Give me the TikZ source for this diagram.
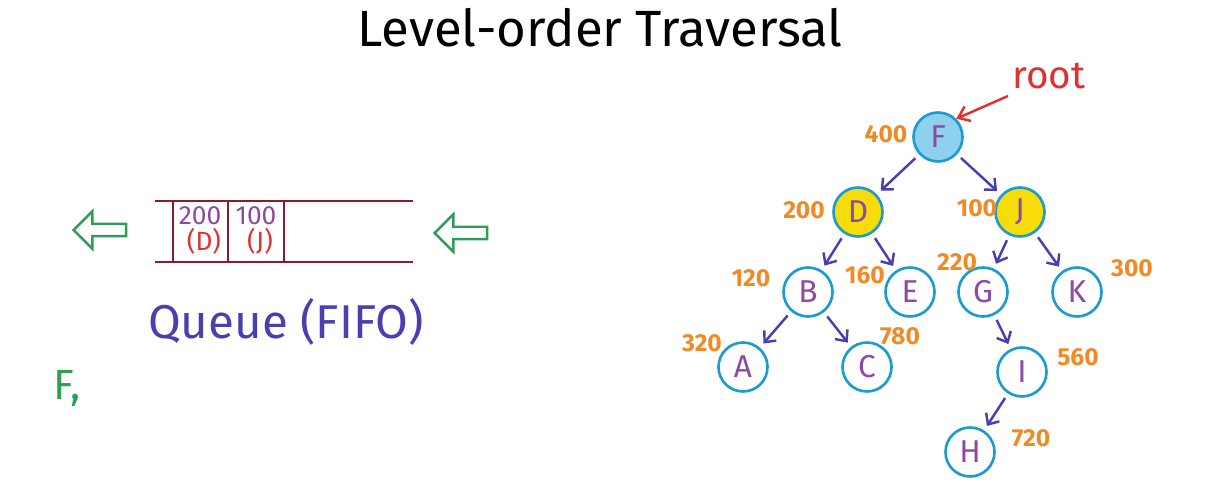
\documentclass[tikz,border=0pt]{standalone}
\usepackage{fontspec}
\setmainfont{Fira Sans}
\usetikzlibrary{shapes.arrows,arrows.meta}
\definecolor{edgeblue}{HTML}{4A3FB0}
\definecolor{ringblue}{HTML}{1B9BD1}
\definecolor{rootfill}{HTML}{8FD0EE}
\definecolor{visityel}{HTML}{F7DC0A}
\definecolor{letterpur}{HTML}{8E4AA0}
\definecolor{keyorange}{HTML}{F08A24}
\definecolor{rootred}{HTML}{E03030}
\definecolor{queuered}{HTML}{8B1C2C}
\definecolor{hintgreen}{HTML}{2E9E56}
\definecolor{qblue}{HTML}{4A3FB0}
\begin{document}
\begin{tikzpicture}[
        x=0.02cm, y=-0.02cm,
        treenode/.style={
            circle,
            draw=ringblue,
            line width=1.5pt,
            fill=white,
            minimum size=0.98cm,
            inner sep=0pt,
            text=letterpur,
            font=\fontsize{18}{18}\selectfont
        },
        visitnode/.style={treenode, fill=visityel},
        rootnode/.style={treenode, fill=rootfill},
        keylbl/.style={text=keyorange, font=\fontsize{14}{14}\selectfont\bfseries},
        edge/.style={-{Straight Barb[length=5pt,width=9pt]}, line width=1.4pt, draw=edgeblue, shorten <=3pt, shorten >=3pt},
        hollowarrow/.style={
            single arrow,
            draw=hintgreen,
            line width=1.4pt,
            shape border rotate=180,
            minimum width=0.75cm,
            minimum height=1.05cm,
            single arrow head extend=0.12cm,
            inner sep=1pt
        },
        qline/.style={draw=queuered, line width=1.4pt}
    ]
    \useasboundingbox (0,0) rectangle (1219,482);
    % Titel
    \node[font=\fontsize{29}{32}\selectfont] (title) at (600,28) {Level-order Traversal};

    % Warteschlange
    \coordinate (qtl) at (155,201);
    \coordinate (qtr) at (413,201);
    \coordinate (qbl) at (155,262);
    \coordinate (qbr) at (413,262);
    \draw[qline] (qtl) -- (qtr);
    \draw[qline] (qbl) -- (qbr);
    \foreach \qx in {173,228,284} {
        \draw[qline] (\qx,201) -- (\qx,262);
    }
    \node[text=letterpur, font=\fontsize{15}{15}\selectfont] (q1key) at (200,216) {200};
    \node[text=rootred, font=\fontsize{15}{15}\selectfont] (q1id) at (204,241) {(D)};
    \node[text=letterpur, font=\fontsize{15}{15}\selectfont] (q2key) at (256,216) {100};
    \node[text=rootred, font=\fontsize{15}{15}\selectfont] (q2id) at (260,241) {(J)};
    \node[hollowarrow] (deq) at (103,230) {};
    \node[hollowarrow] (enq) at (464,233) {};
    \node[text=qblue, font=\fontsize{27}{30}\selectfont] (qcap) at (286,322) {Queue (FIFO)};
    \node[text=hintgreen, font=\fontsize{24}{26}\selectfont] (visited) at (67,388) {F,};

    % Baum
    \node[rootnode] (F) at (938,137) {F};
    \node[visitnode] (D) at (858,212) {D};
    \node[visitnode] (J) at (1020,212) {J};
    \node[treenode] (B) at (808,292) {B};
    \node[treenode] (E) at (910,292) {E};
    \node[treenode] (G) at (983,292) {G};
    \node[treenode] (K) at (1077,292) {K};
    \node[treenode] (A) at (743,367) {A};
    \node[treenode] (C) at (867,367) {C};
    \node[treenode] (I) at (1022,372) {I};
    \node[treenode] (H) at (970,452) {H};

    % Schluessel
    \node[keylbl] (kF) at (886,134) {400};
    \node[keylbl] (kD) at (804,210) {200};
    \node[keylbl] (kJ) at (977,208) {100};
    \node[keylbl] (kB) at (751,278) {120};
    \node[keylbl] (kE) at (865,275) {160};
    \node[keylbl] (kG) at (957,262) {220};
    \node[keylbl] (kK) at (1132,268) {300};
    \node[keylbl] (kA) at (702,343) {320};
    \node[keylbl] (kC) at (900,336) {780};
    \node[keylbl] (kI) at (1078,357) {560};
    \node[keylbl] (kH) at (1031,438) {720};

    % Kanten
    \draw[edge] (F) -- (D);
    \draw[edge] (F) -- (J);
    \draw[edge] (D) -- (B);
    \draw[edge] (D) -- (E);
    \draw[edge] (J) -- (G);
    \draw[edge] (J) -- (K);
    \draw[edge] (B) -- (A);
    \draw[edge] (B) -- (C);
    \draw[edge] (G) -- (I);
    \draw[edge] (I) -- (H);

    % Wurzel
    \node[text=rootred, font=\fontsize{22}{24}\selectfont] (rootlbl) at (1049,76) {root};
    \coordinate (rootfrom) at (1008,96);
    \draw[-{Straight Barb[length=6pt,width=9pt]}, line width=1.4pt, draw=rootred] (rootfrom) -- (F.north east);
\end{tikzpicture}
\end{document}
